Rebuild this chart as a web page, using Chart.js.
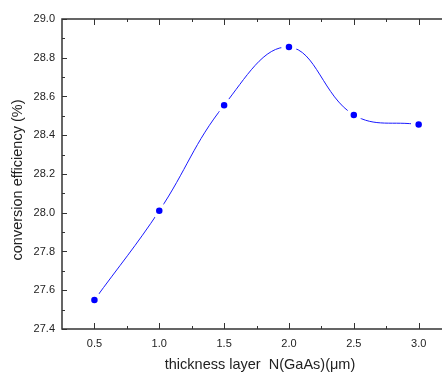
<!DOCTYPE html>
<html>
<head>
<meta charset="utf-8">
<script src="https://cdn.jsdelivr.net/npm/chart.js@4/dist/chart.umd.min.js"></script>
<style>
  html, body { margin: 0; padding: 0; background: #fff; overflow: hidden; }
  #wrap { width: 442px; height: 373px; }
</style>
</head>
<body>
<div id="wrap"><canvas id="effChart" width="442" height="373"></canvas></div>
<script>
// thickness of the GaAs layer (µm) and the efficiency
const thickness = [0.5, 1.0, 1.5, 2.0, 2.5, 3.0];
const efficiency = [27.55, 28.01, 28.555, 28.855, 28.505, 28.455];

const xTicks = [0.5, 1.0, 1.5, 2.0, 2.5, 3.0];
const xMinorTicks = [0.75, 1.25, 1.75, 2.25, 2.75];
const yTicks = [27.4, 27.6, 27.8, 28.0, 28.2, 28.4, 28.6, 28.8, 29.0];
const yMinorTicks = [27.5, 27.7, 27.9, 28.1, 28.3, 28.5, 28.7, 28.9];

const xTitle = 'thickness layer  N(GaAs)(\u03bcm)';
const yTitle = 'conversion efficiency (%)';

const axisColor = '#333333';
const textColor = '#222222';

// Origin-style frame: ticks point into the plot
const framePlugin = {
  id: 'frame',
  beforeDatasetsDraw(chart) {
    const { ctx, chartArea: a, scales } = chart;
    const x = scales.x, y = scales.y;
    ctx.save();
    ctx.strokeStyle = axisColor;
    ctx.lineWidth = 1.5;
    ctx.beginPath();
    ctx.moveTo(a.right + 2, a.top);
    ctx.lineTo(a.left, a.top);
    ctx.lineTo(a.left, a.bottom);
    ctx.lineTo(a.right + 2, a.bottom);
    ctx.stroke();

    ctx.lineWidth = 1;
    ctx.beginPath();
    const tick = (vals, len) => {
      vals.forEach(v => {
        const px = Math.round(x.getPixelForValue(v)) + 0.5;
        ctx.moveTo(px, a.bottom);
        ctx.lineTo(px, a.bottom - len);
        ctx.moveTo(px, a.top);
        ctx.lineTo(px, a.top + len);
      });
    };
    tick(xTicks, 6);
    tick(xMinorTicks, 3);
    const ytick = (vals, len) => {
      vals.forEach(v => {
        const py = Math.round(y.getPixelForValue(v)) + 0.5;
        ctx.moveTo(a.left, py);
        ctx.lineTo(a.left + len, py);
      });
    };
    ytick(yTicks, 5);
    ytick(yMinorTicks, 3);
    ctx.stroke();

    // axis titles (placed like the original, a bit off-centre)
    ctx.fillStyle = textColor;
    ctx.font = '14.5px "Liberation Sans"';
    ctx.textAlign = 'center';
    ctx.textBaseline = 'middle';
    ctx.fillText(xTitle, 260, 365);
    ctx.translate(18, 180);
    ctx.rotate(-Math.PI / 2);
    ctx.fillText(yTitle, 0, 0);
    ctx.restore();
  }
};

new Chart(document.getElementById('effChart'), {
  type: 'line',
  data: {
    datasets: [{
      data: thickness.map((t, i) => ({ x: t, y: efficiency[i] })),
      borderColor: '#1a1aff',
      borderWidth: 1,
      tension: 0.4,
      fill: false,
      pointRadius: 5.5,
      pointBorderWidth: 4.5,
      pointBackgroundColor: '#0000ff',
      pointBorderColor: '#ffffff'
    }]
  },
  options: {
    responsive: false,
    animation: false,
    devicePixelRatio: 1,
    layout: { autoPadding: false, padding: { top: 19, right: 0, left: 0, bottom: 0 } },
    plugins: { legend: { display: false }, tooltip: { enabled: false } },
    scales: {
      x: {
        type: 'linear',
        min: 0.25,
        max: 3.18,
        afterBuildTicks: s => { s.ticks = xTicks.map(v => ({ value: v })); },
        afterFit: s => { s.height = 44; },
        grid: { display: false, drawTicks: false },
        border: { display: false },
        ticks: {
          color: textColor,
          padding: 8,
          font: { family: 'Liberation Sans', size: 11 },
          callback: v => Number(v).toFixed(1)
        }
      },
      y: {
        min: 27.4,
        max: 29.0,
        afterBuildTicks: s => { s.ticks = yTicks.map(v => ({ value: v })); },
        afterFit: s => { s.width = 62; },
        grid: { display: false, drawTicks: false },
        border: { display: false },
        ticks: {
          color: textColor,
          padding: 7,
          font: { family: 'Liberation Sans', size: 11 },
          callback: v => Number(v).toFixed(1)
        }
      }
    }
  },
  plugins: [framePlugin]
});
</script>
</body>
</html>
